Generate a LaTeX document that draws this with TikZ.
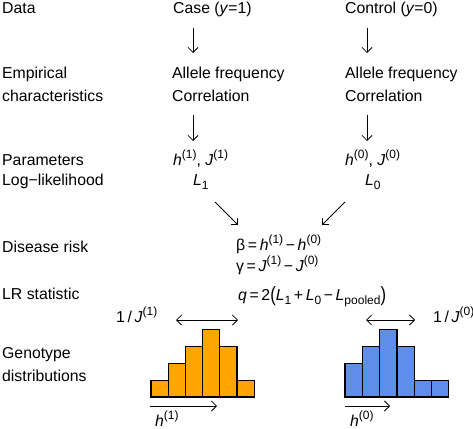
\documentclass[tikz,border=0pt]{standalone}
\usepackage{fontspec}
\setmainfont{Liberation Sans}
\usetikzlibrary{arrows.meta}
\definecolor{barorange}{RGB}{255,165,0}
\definecolor{barblue}{RGB}{94,142,232}
\newcommand{\fs}{\fontsize{15.8}{18}\selectfont}
\newcommand{\sups}[1]{\raisebox{0.42em}{\fontsize{12}{13}\selectfont #1}}
\newcommand{\subs}[1]{\raisebox{-0.28em}{\fontsize{12}{13}\selectfont #1}}
\newcommand{\mi}[1]{\textit{#1}}
\newcommand{\bigp}[1]{\raisebox{-0.12em}{\scalebox{1.05}[1.3]{#1}}}
\tikzset{
  lbl/.style={anchor=base west, inner sep=0pt, font=\fs},
  arr/.style={line width=0.8pt, -{Straight Barb[length=5pt,width=10pt]}},
  dbl/.style={line width=0.8pt, {Straight Barb[length=5pt,width=10pt]}-{Straight Barb[length=5pt,width=10pt]}},
  bar/.style={draw=black, line width=1.2pt}
}
\begin{document}
\begin{tikzpicture}[x=1pt,y=-1pt]
\useasboundingbox (0,0) rectangle (473,428);
% left labels
\node[lbl] (ldata) at (2,14) {Data};
\node[lbl] (lemp1) at (2,78) {Empirical};
\node[lbl] (lemp2) at (2,101) {characteristics};
\node[lbl] (lpar) at (2,165) {Parameters};
\node[lbl] (llog) at (2,185) {Log−likelihood};
\node[lbl] (ldis) at (2,252) {Disease risk};
\node[lbl] (llr) at (2,299) {LR statistic};
\node[lbl] (lgen1) at (2,358) {Genotype};
\node[lbl] (lgen2) at (2,381) {distributions};
% case column
\node[lbl] (case) at (173,14) {Case (\mi{y}=1)};
\node[lbl] (caf) at (172,78) {Allele frequency};
\node[lbl] (ccor) at (172,101) {Correlation};
\node[lbl] (chj) at (173,165) {\mi{h}\sups{(1)}, \mi{J}\sups{(1)}};
\node[lbl] (cl) at (193,185) {\mi{L}\subs{1}};
% control column
\node[lbl] (ctrl) at (345,14) {Control (\mi{y}=0)};
\node[lbl] (taf) at (345,78) {Allele frequency};
\node[lbl] (tcor) at (345,101) {Correlation};
\node[lbl] (thj) at (345,165) {\mi{h}\sups{(0)}, \mi{J}\sups{(0)}};
\node[lbl] (tl) at (365,185) {\mi{L}\subs{0}};
% center formulas
\node[lbl] (beta) at (236,250) {β\,=\,\mi{h}\sups{(1)}\,−\,\mi{h}\sups{(0)}};
\node[lbl] (gamma) at (236,271) {γ\,=\,\mi{J}\sups{(1)}\,−\,\mi{J}\sups{(0)}};
\node[lbl] (qstat) at (238,300) {\mi{q}\,=\,2\bigp{(}\mi{L}\subs{1}\,+\,\mi{L}\subs{0}\,−\,\mi{L}\subs{pooled}\bigp{)}};
% arrows
\coordinate (a1s) at (193,28); \coordinate (a1e) at (193,53);
\coordinate (a2s) at (193,115); \coordinate (a2e) at (193,141);
\coordinate (b1s) at (367,28); \coordinate (b1e) at (367,53);
\coordinate (b2s) at (367,115); \coordinate (b2e) at (367,141);
\coordinate (d1s) at (215,202); \coordinate (d1e) at (238,225);
\coordinate (d2s) at (345,202); \coordinate (d2e) at (322,225);
\draw[arr] (a1s) -- (a1e);
\draw[arr] (a2s) -- (a2e);
\draw[arr] (b1s) -- (b1e);
\draw[arr] (b2s) -- (b2e);
\draw[arr] (d1s) -- (d1e);
\draw[arr] (d2s) -- (d2e);
% left histogram
\foreach \i/\h in {0/1,1/2,2/3,3/4,4/3,5/1} {
  \draw[bar, fill=barorange] (151+\i*17.2,397) rectangle (151+\i*17.2+17.2,397-\h*16.8);
}
% right histogram
\foreach \i/\h in {0/2,1/3,2/4,3/3,4/1,5/1} {
  \draw[bar, fill=barblue] (345+\i*17.3,397) rectangle (345+\i*17.3+17.3,397-\h*16.8);
}
% width arrows
\coordinate (w1s) at (176,320); \coordinate (w1e) at (238,320);
\coordinate (w0s) at (366,320); \coordinate (w0e) at (415,320);
\draw[dbl] (w1s) -- (w1e);
\draw[dbl] (w0s) -- (w0e);
\node[lbl] (j1) at (116,322) {1\,/\,\mi{J}\sups{(1)}};
\node[lbl] (j0) at (433,322) {1\,/\,\mi{J}\sups{(0)}};
% h arrows
\coordinate (h1s) at (150,406); \coordinate (h1e) at (217,406);
\coordinate (h0s) at (345,406); \coordinate (h0e) at (390,406);
\draw[arr] (h1s) -- (h1e);
\draw[arr] (h0s) -- (h0e);
\node[lbl] (h1l) at (155,426) {\mi{h}\sups{(1)}};
\node[lbl] (h0l) at (350,426) {\mi{h}\sups{(0)}};
\end{tikzpicture}
\end{document}
